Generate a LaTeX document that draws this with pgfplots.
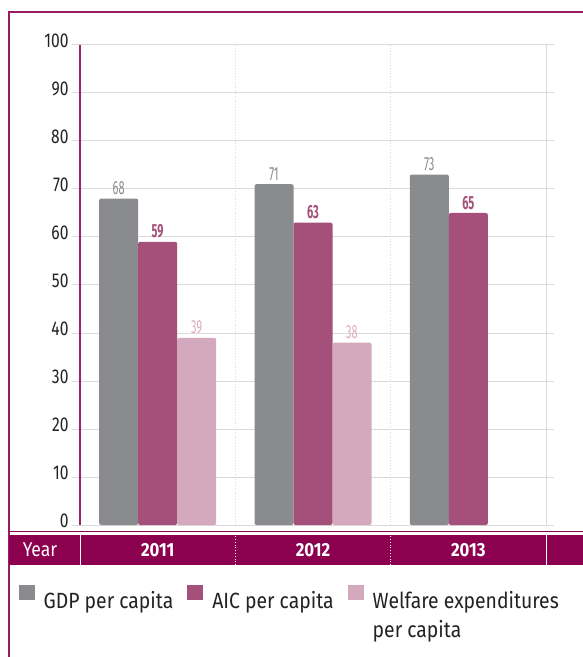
\documentclass[border=0pt]{standalone}
\usepackage{pgfplots}
\pgfplotsset{compat=1.18}
\usepackage{fontspec}
\setmainfont{Fira Sans}[FakeStretch=0.88]
\newfontfamily\tickfont{Fira Sans}[FakeStretch=0.78]
\newfontfamily\labfont{Fira Sans}[FakeStretch=0.58]
\definecolor{mag}{HTML}{8C0050}
\definecolor{framec}{HTML}{9A1A68}
\definecolor{gdp}{HTML}{8A8B8F}
\definecolor{aic}{HTML}{A5507A}
\definecolor{wel}{HTML}{D4A9BE}
\definecolor{welt}{HTML}{DBAFC4}
\definecolor{gridc}{HTML}{DADADA}
\definecolor{axl}{HTML}{A3206F}
\definecolor{txt}{HTML}{222222}
\begin{document}
\begin{tikzpicture}[x=1pt,y=1pt]
\useasboundingbox (0,0) rectangle (582,657);
\fill[white] (0,0) rectangle (582,657);
% outer frame
\draw[framec, line width=2.5pt] (9,-5) -- (9,645) -- (590,645);
% thin line above band
\draw[mag, line width=1pt] (9,125.5) -- (590,125.5);
% band
\fill[mag] (9,92) rectangle (590,122);
\node[white, font=\fontsize{20}{20}\selectfont, anchor=base] at (40,100) {Year};
\begin{axis}[
  at={(80pt,132pt)}, anchor=south west,
  scale only axis, width=466pt, height=480pt,
  xmin=0, xmax=3, ymin=0, ymax=100,
  enlargelimits=false, clip=false,
  axis line style={draw=none},
  ytick={0,10,...,100},
  xtick={0.5,1.5,2.5},
  xticklabels={2011,2012,2013},
  tick align=outside,
  major tick length=8pt,
  ytick style={gridc, line width=1pt},
  xtick style={draw=none},
  ymajorgrids,
  grid style={gridc, line width=1pt},
  /pgf/number format/assume math mode=true,
  yticklabel style={font=\tickfont\fontsize{20}{20}\selectfont, text=txt, yshift=4pt},
  xticklabel style={font=\bfseries\fontsize{19}{19}\selectfont, text=white, anchor=center, yshift=-17pt},
  ybar=0pt, bar width=39pt,
  legend columns=3,
  legend cell align=left,
  legend style={at={(axis description cs:-0.132,-0.125)}, anchor=north west,
    draw=none, fill=none, inner sep=0pt,
    font=\fontsize{22}{29}\selectfont, text=txt,
    nodes={inner sep=0pt},
    /tikz/every odd column/.append style={column sep=9pt},
    /tikz/every even column/.append style={column sep=14pt}},
  legend image code/.code={\fill[#1, rounded corners=0pt] (0pt,0pt) rectangle (16pt,15pt);},
  nodes near coords,
]
\draw[axl, line width=1.5pt] (axis cs:0,0) -- (axis cs:0,100);
\draw[gridc, line width=1pt] (axis cs:3,0) -- (axis cs:3,100);
\draw[gridc, line width=0.8pt, dotted] (axis cs:1,0) -- (axis cs:1,100);
\draw[gridc, line width=0.8pt, dotted] (axis cs:2,0) -- (axis cs:2,100);
% separators in the year band
\draw[white, line width=1pt] (axis cs:0,-8.33) -- (axis cs:0,-2.08);
\draw[white, line width=1pt] (axis cs:3,-8.33) -- (axis cs:3,-2.08);
\draw[white, line width=0.8pt, dotted] (axis cs:1,-8.33) -- (axis cs:1,-2.08);
\draw[white, line width=0.8pt, dotted] (axis cs:2,-8.33) -- (axis cs:2,-2.08);
\addplot[fill=gdp, draw=none, rounded corners=2pt,
  nodes near coords style={font=\labfont\fontsize{19}{19}\selectfont, text=gdp}]
  coordinates {(0.5,68) (1.5,71) (2.5,73)};
\addlegendentry{GDP per capita}
\addplot[fill=aic, draw=none, rounded corners=2pt,
  nodes near coords style={font=\labfont\bfseries\fontsize{19}{19}\selectfont, text=aic}]
  coordinates {(0.5,59) (1.5,63) (2.5,65)};
\addlegendentry{AIC per capita}
\addplot[fill=wel, draw=none, rounded corners=2pt,
  nodes near coords style={font=\labfont\fontsize{19}{19}\selectfont, text=welt}]
  coordinates {(0.5,39) (1.5,38)};
\addlegendentry{\parbox[t]{200pt}{Welfare expenditures\par per capita}}
\end{axis}
\end{tikzpicture}
\end{document}
